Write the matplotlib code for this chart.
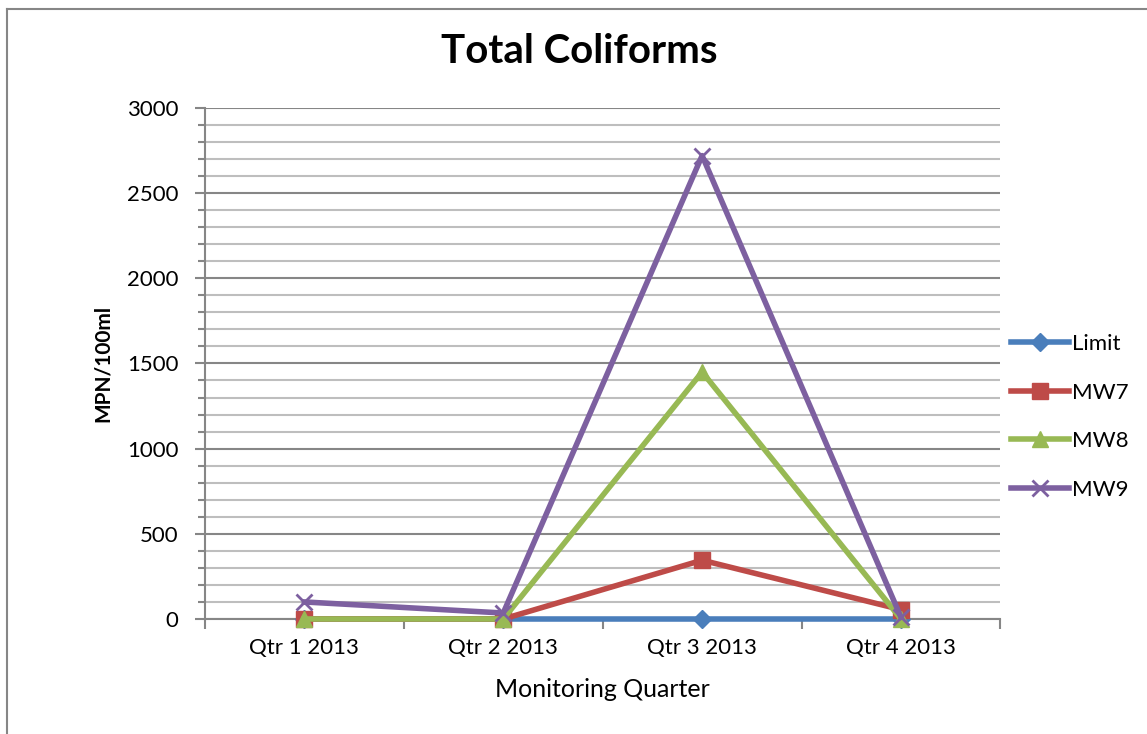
import numpy as np
import matplotlib.pyplot as plt
from matplotlib.lines import Line2D
from matplotlib.ticker import MultipleLocator

plt.rcParams['font.family'] = ['Lato', 'DejaVu Sans']

quarters = ['Qtr 1 2013', 'Qtr 2 2013', 'Qtr 3 2013', 'Qtr 4 2013']
limit = [0, 0, 0, 0]
mw7 = [0, 0, 345, 55]
mw8 = [0, 0, 1450, 0]
mw9 = [100, 35, 2720, 10]

series = [
    ('Limit', limit, '#4A7EBB', 'D', 9),
    ('MW7', mw7, '#BE4B48', 's', 11),
    ('MW8', mw8, '#98B954', '^', 12),
    ('MW9', mw9, '#7D60A0', 'x', 12),
]

fig = plt.figure(figsize=(11.47, 7.34), dpi=100)
ax = fig.add_axes([0.1787, 0.1567, 0.6935, 0.6963])

x = np.arange(len(quarters))
for name, vals, col, mk, ms in series:
    ax.plot(x, vals, color=col, lw=4, marker=mk, markersize=ms,
            markeredgewidth=2 if mk == 'x' else 1, markeredgecolor=col,
            label=name, clip_on=False, zorder=3)

ax.set_xlim(-0.5, len(quarters) - 0.5)
ax.set_ylim(0, 3000)
ax.yaxis.set_major_locator(MultipleLocator(500))
ax.yaxis.set_minor_locator(MultipleLocator(100))
ax.grid(which='major', axis='y', color='#868686', lw=1.5)
ax.grid(which='minor', axis='y', color='#BEBEBE', lw=1.5)
ax.set_axisbelow(True)

ax.set_xticks(x)
ax.set_xticklabels(quarters, fontsize=16)
ax.set_xticks(np.arange(-0.5, len(quarters)), minor=True)
ax.tick_params(axis='x', which='major', length=0, pad=14)
ax.tick_params(axis='x', which='minor', length=7, width=1.5, color='#868686')
ax.tick_params(axis='y', which='major', length=7, width=1.5, color='#868686', labelsize=16, pad=12)
ax.tick_params(axis='y', which='minor', length=5, width=1.5, color='#868686')

for side in ['top', 'right']:
    ax.spines[side].set_visible(False)
for side in ['left', 'bottom']:
    ax.spines[side].set_color('#868686')
    ax.spines[side].set_linewidth(1.5)

ax.set_xlabel('Monitoring Quarter', fontsize=18, labelpad=14)
ax.set_ylabel('MPN/100ml', fontsize=15, fontweight='bold', labelpad=10)
fig.suptitle('Total Coliforms', fontsize=29, fontweight='bold', y=0.955, x=0.505)

fig.legend(*ax.get_legend_handles_labels(), loc='center left',
           bbox_to_anchor=(0.874, 0.432), frameon=False,
           fontsize=16, handlelength=2.6, labelspacing=1.28, handletextpad=0.15,
           borderaxespad=0)

# outer chart border: left and top edges only
fig.add_artist(Line2D([0.0065, 0.0065], [0.0, 0.988], color='#868686', lw=1.5))
fig.add_artist(Line2D([0.0065, 1.0], [0.988, 0.988], color='#868686', lw=1.5))

fig.savefig('out.png', dpi=100)
